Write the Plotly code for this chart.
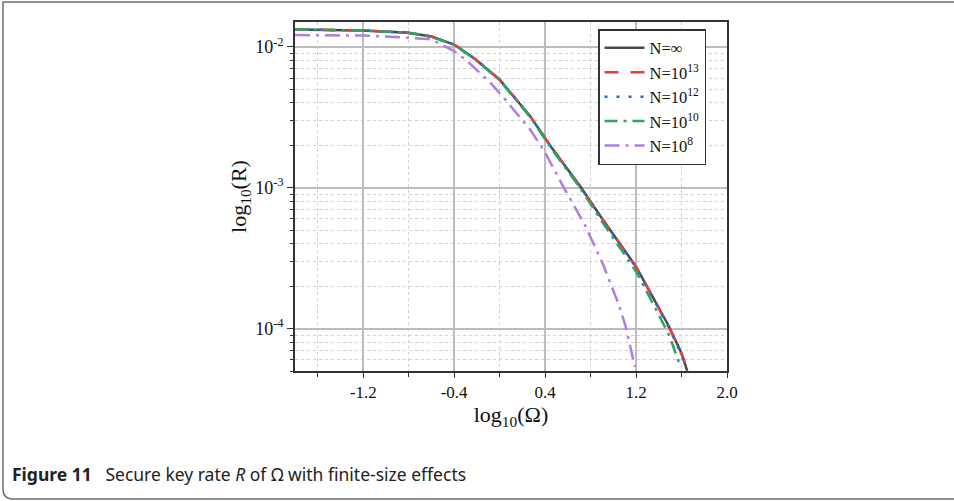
import plotly.graph_objects as go
import numpy as np

# ---- data (x = log10(Omega), y = log10(R)) ----
x_inf = [-1.8, -1.2, -0.8, -0.6, -0.4, -0.21, 0.0, 0.27, 0.45, 0.71, 0.89, 1.2, 1.35, 1.49, 1.6, 1.65]
y_inf = [-1.877, -1.884, -1.900, -1.927, -1.984, -2.090, -2.233, -2.494, -2.707, -2.992, -3.206, -3.560, -3.780, -3.985, -4.175, -4.300]

x_13 = [-1.8, -1.2, -0.8, -0.6, -0.4, -0.21, 0.0, 0.27, 0.45, 0.71, 0.89, 1.2, 1.35, 1.49, 1.6, 1.63]
y_13 = [-1.877, -1.884, -1.900, -1.927, -1.984, -2.090, -2.233, -2.494, -2.707, -2.993, -3.207, -3.562, -3.783, -3.990, -4.182, -4.240]

x_12 = [-1.8, -1.2, -0.8, -0.6, -0.4, -0.21, 0.0, 0.27, 0.45, 0.71, 0.89, 1.2, 1.35, 1.49, 1.6, 1.64]
y_12 = [-1.877, -1.884, -1.900, -1.927, -1.984, -2.090, -2.233, -2.494, -2.707, -2.994, -3.209, -3.565, -3.786, -3.994, -4.188, -4.265]

x_10 = [-1.8, -1.2, -0.8, -0.6, -0.4, -0.21, 0.0, 0.27, 0.45, 0.71, 0.89, 1.2, 1.35, 1.49, 1.58]
y_10 = [-1.878, -1.885, -1.902, -1.929, -1.986, -2.093, -2.237, -2.500, -2.716, -3.005, -3.228, -3.595, -3.825, -4.045, -4.245]

x_8 = [-1.8, -1.2, -0.8, -0.6, -0.4, -0.3, -0.08, 0.05, 0.27, 0.40, 0.56, 0.75, 0.91, 1.05, 1.11, 1.15, 1.19]
y_8 = [-1.917, -1.920, -1.936, -1.948, -2.030, -2.090, -2.256, -2.375, -2.589, -2.750, -2.992, -3.265, -3.545, -3.834, -3.989, -4.131, -4.273]

x_tickvals = [-1.2, -0.4, 0.4, 1.2, 2.0]
x_ticktext = ["-1.2", "-0.4", "0.4", "1.2", "2.0"]
x_minorvals = [-1.6, -0.8, 0.0, 0.8, 1.6]
y_tickvals = [1e-4, 1e-3, 1e-2]
y_ticktext = ["10<sup>-4</sup>", "10<sup>-3</sup>", "10<sup>-2</sup>"]
y_minorvals = [m * 10.0 ** e for e in (-5, -4, -3) for m in range(2, 10)]

series = [
    ("N=∞", x_inf, y_inf, "#4a4a4a", "solid"),
    ("N=10<sup>13</sup>", x_13, y_13, "#f2383a", "14px,12px"),
    ("N=10<sup>12</sup>", x_12, y_12, "#1f6fd8", "3px,9px"),
    ("N=10<sup>10</sup>", x_10, y_10, "#2fa35f", "13px,6px,3px,6px"),
    ("N=10<sup>8</sup>", x_8, y_8, "#b07de2", "15px,6px,3px,6px"),
]

W, H = 954, 501
ML, MR, MT, MB = 295, 227, 22, 130
PW, PH = W - ML - MR, H - MT - MB


def px(xp):
    return (xp - ML) / PW


def py(yp):
    return (H - MB - yp) / PH


fig = go.Figure()
for name, xs, ys, col, dash in series:
    fig.add_trace(go.Scatter(
        x=xs, y=[10 ** v for v in ys], mode="lines", name=name,
        line=dict(color=col, width=2.5, dash=dash),
    ))

serif = "Liberation Serif, Times New Roman, serif"
fig.update_layout(
    width=W, height=H,
    margin=dict(l=ML, r=MR, t=MT, b=MB),
    paper_bgcolor="white", plot_bgcolor="white",
    font=dict(family=serif, size=17, color="#111"),
    showlegend=True,
    legend=dict(
        x=px(598), y=py(29), xanchor="left", yanchor="top",
        bgcolor="white", bordercolor="#333", borderwidth=1.5,
        font=dict(family=serif, size=16.5, color="#111"),
        tracegroupgap=0, itemwidth=40,
    ),
    xaxis=dict(
        range=[-1.8, 2.0],
        tickmode="array", tickvals=x_tickvals, ticktext=x_ticktext,
        ticks="outside", ticklen=5, tickwidth=1.2, tickcolor="#333",
        showline=True, mirror=True, linecolor="#333", linewidth=1.5,
        showgrid=True, gridcolor="#bdbdbd", gridwidth=1.5,
        zeroline=False,
        minor=dict(tickmode="array", tickvals=x_minorvals, ticks="outside", ticklen=4,
                   tickcolor="#333", showgrid=True, gridcolor="#d0d0d0", griddash="dot", gridwidth=1),
        title=dict(text="log<sub>10</sub>(Ω)", font=dict(family=serif, size=22), standoff=4),
        tickfont=dict(family=serif, size=17),
    ),
    yaxis=dict(
        type="log",
        range=[np.log10(5e-5), np.log10(0.015)],
        tickmode="array", tickvals=y_tickvals, ticktext=y_ticktext,
        ticks="outside", ticklen=6, tickwidth=1.2, tickcolor="#333",
        showline=True, mirror=True, linecolor="#333", linewidth=1.5,
        showgrid=True, gridcolor="#bdbdbd", gridwidth=1.5,
        zeroline=False,
        minor=dict(tickmode="array", tickvals=y_minorvals, ticks="outside", ticklen=3,
                   tickcolor="#333", showgrid=True, gridcolor="#d0d0d0", griddash="dot", gridwidth=1),
        title=dict(text="log<sub>10</sub>(R)", font=dict(family=serif, size=22), standoff=2),
        tickfont=dict(family=serif, size=18),
    ),
)

# outer rounded frame
x0, y0, x1, y1, r = 3, 2, 962, 499, 10
path = (f"M {px(x0)},{py(y0)} L {px(x1)},{py(y0)} L {px(x1)},{py(y1)} "
        f"L {px(x0 + r)},{py(y1)} Q {px(x0)},{py(y1)} {px(x0)},{py(y1 - r)} Z")
fig.add_shape(type="path", xref="paper", yref="paper", path=path,
              line=dict(color="#6e6e6e", width=1.5), fillcolor="rgba(0,0,0,0)", layer="above")

fig.add_annotation(
    xref="paper", yref="paper", x=px(10), y=py(474), xanchor="left", yanchor="middle",
    showarrow=False, align="left",
    text="<b>Figure 11</b>&nbsp;&nbsp;&nbsp;Secure key rate <i>R</i> of Ω with finite-size effects",
    font=dict(family="Noto Sans, Open Sans, sans-serif", size=17.5, color="#222"),
)

fig.write_html("out.html")
